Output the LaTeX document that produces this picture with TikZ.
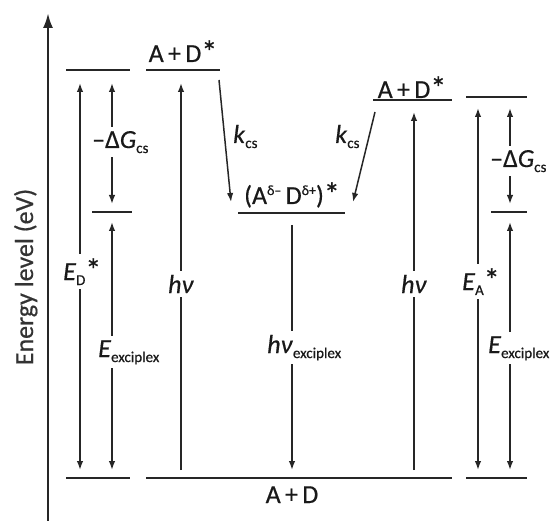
\documentclass[tikz,border=0pt]{standalone}
\usepackage{fontspec}
\setmainfont{Carlito}[FakeBold=0.5]
\usetikzlibrary{arrows.meta}
\newcommand{\sbx}[1]{\raisebox{-5pt}{\fontsize{15}{15}\selectfont #1}}
\newcommand{\spx}[1]{\raisebox{9pt}{\fontsize{14}{14}\selectfont #1}}
\newcommand{\bigstar}{\raisebox{-1pt}{\fontsize{32}{32}\selectfont *}}
\begin{document}
\begin{tikzpicture}[x=1pt,y=-1pt,
  lvl/.style={line width=2.1pt, black!85},
  arr/.style={line width=1.5pt, black!85, -{Latex[length=9pt,width=6.5pt]}},
  darr/.style={line width=1.5pt, black!85, {Latex[length=9pt,width=6.5pt]}-{Latex[length=9pt,width=6.5pt]}},
  lbl/.style={fill=white, inner xsep=1pt, inner ysep=4pt, text=black!90, font=\fontsize{26}{30}\selectfont},
  txt/.style={inner sep=0pt, text=black!90, font=\fontsize{26}{30}\selectfont}]
\useasboundingbox (0,0) rectangle (551,521);

% axis
\coordinate (ax0) at (48,521);
\coordinate (ax1) at (48,13);
\draw[line width=2.5pt, black!85, -{Latex[length=15pt,width=10pt]}] (ax0) -- (ax1);
\node[txt, rotate=90, anchor=base, text=black!80] (ylab) at (33,277) {Energy level (eV)};

% levels
\coordinate (ltA) at (66,70);   \coordinate (ltB) at (130,70);
\coordinate (lmA) at (92,212);  \coordinate (lmB) at (132,212);
\coordinate (lbA) at (66,478);  \coordinate (lbB) at (130,478);
\coordinate (dlA) at (146,70);  \coordinate (dlB) at (220,70);
\coordinate (exA) at (238,213); \coordinate (exB) at (345,213);
\coordinate (drA) at (373,100); \coordinate (drB) at (452,100);
\coordinate (rtA) at (466,97);  \coordinate (rtB) at (527,97);
\coordinate (rmA) at (491,212); \coordinate (rmB) at (527,212);
\coordinate (gA) at (146,478);  \coordinate (gB) at (452,478);
\coordinate (rbA) at (466,478); \coordinate (rbB) at (527,478);
\foreach \a/\b in {ltA/ltB,lmA/lmB,lbA/lbB,dlA/dlB,exA/exB,drA/drB,rtA/rtB,rmA/rmB,gA/gB,rbA/rbB}
  \draw[lvl] (\a) -- (\b);

% level labels
\node[txt, anchor=base] (adsL) at (183,62) {A\,+\,D\bigstar};
\node[txt, anchor=base] (adsR) at (412,98) {A\,+\,D\bigstar};
\node[txt, anchor=base] (ad) at (292,503) {A\,+\,D};
\node[txt, anchor=base] (exl) at (292,204) {(A\spx{δ–}\,D\spx{δ+})\bigstar};

% arrow end points
\coordinate (edT) at (80,83);   \coordinate (edB) at (80,470);
\coordinate (gLT) at (112,83);  \coordinate (gLB) at (112,204);
\coordinate (xLT) at (112,222); \coordinate (xLB) at (112,470);
\coordinate (hLB) at (181,470); \coordinate (hLT) at (181,83);
\coordinate (kLA) at (219,80);  \coordinate (kLB) at (231,202);
\coordinate (kRA) at (375,112); \coordinate (kRB) at (353,202);
\coordinate (heT) at (292,225); \coordinate (heB) at (292,470);
\coordinate (hRB) at (414,470); \coordinate (hRT) at (414,112);
\coordinate (eaT) at (478,108); \coordinate (eaB) at (478,470);
\coordinate (gRT) at (510,108); \coordinate (gRB) at (510,204);
\coordinate (xRT) at (510,222); \coordinate (xRB) at (510,470);

\draw[darr] (edT) -- (edB);
\draw[darr] (gLT) -- (gLB);
\draw[darr] (xLT) -- (xLB);
\draw[arr] (hLB) -- (hLT);
\draw[arr] (kLA) -- (kLB);
\draw[arr] (kRA) -- (kRB);
\draw[arr] (heT) -- (heB);
\draw[arr] (hRB) -- (hRT);
\draw[darr] (eaT) -- (eaB);
\draw[darr] (gRT) -- (gRB);
\draw[darr] (xRT) -- (xRB);

% arrow labels
\node[lbl, anchor=base west] (edl) at (62,280) {\textit{E}\sbx{D}\bigstar};
\node[lbl, anchor=base west] (gLl) at (91,148) {–Δ\textit{G}\sbx{cs}};
\node[lbl, anchor=base west] (xLl) at (97,357) {\textit{E}\sbx{exciplex}};
\node[lbl, anchor=base] (hLl) at (181,293) {\textit{hν}};
\node[txt, anchor=base west] (kLl) at (233,143) {\textit{k}\sbx{cs}};
\node[txt, anchor=base west] (kRl) at (335,143) {\textit{k}\sbx{cs}};
\node[lbl, anchor=base west] (hel) at (266,353) {\textit{hν}\sbx{exciplex}};
\node[lbl, anchor=base] (hRl) at (414,293) {\textit{hν}};
\node[lbl, anchor=base west] (eal) at (461,290) {\textit{E}\sbx{A}\bigstar};
\node[lbl, anchor=base west] (gRl) at (489,167) {–Δ\textit{G}\sbx{cs}};
\node[lbl, anchor=base west] (xRl) at (487,353) {\textit{E}\sbx{exciplex}};
\end{tikzpicture}
\end{document}
